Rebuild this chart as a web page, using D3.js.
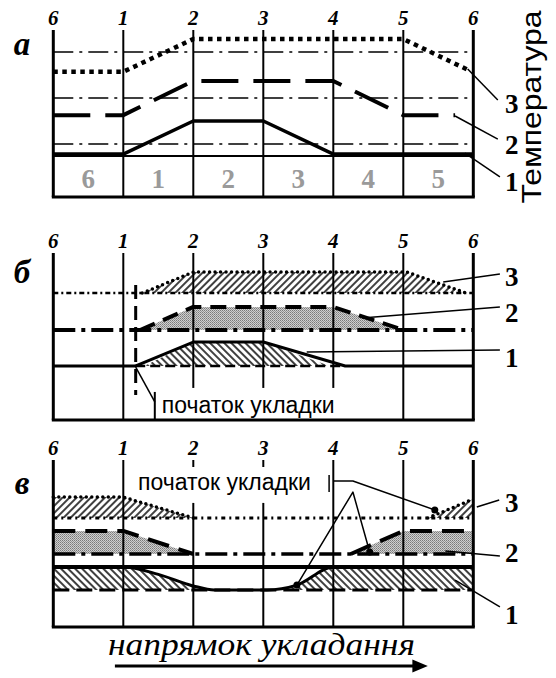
<!DOCTYPE html>
<html><head><meta charset="utf-8">
<script src="https://cdn.jsdelivr.net/npm/d3@7"></script>
<style>body{margin:0;background:#fff}</style>
</head><body>
<svg id="c" width="556" height="678"></svg>
<script>
// ---------- data ----------
const stations = ["6","1","2","3","4","5","6"];
const cellLabels = ["6","1","2","3","4","5"];
const panelLetters = ["а","б","в"];
const seriesLabels = ["1","2","3"];
const axisTitle = "Температура";
const startLabel = "початок укладки";
const directionLabel = "напрямок укладання";

// panel а (temperature levels, arbitrary units 0..100)
const aGrid = [86.8, 59.3, 31.7];
const aRow = 24.5;
const aLine3 = [[0,75],[1,75],[2,94.6],[5,94.6],[5.93,76]];
const aLine2 = [[0,49],[1,49],[2,69.5],[4,69.5],[5,49],[5.74,49]];
const aLine1 = [[0,25.7],[1,25.7],[2,45.5],[3,45.5],[4,25.7],[6,25.7]];
const aLabelLevels = [9.0, 31.1, 55.7];
const aLeaders = [[[5.88,26.3],[6.38,12]],[[5.74,48.5],[6.35,34.7]],[[5.92,76.6],[6.35,58.1]]];

// panel б
const bBase3 = 76.0;
const bZone3 = [[1.27,76],[2,88.6],[5.05,88.6],[5.9,76]];
const bBase2 = 53.9;
const bZone2 = [[1.24,53.9],[2,67.7],[4,67.7],[5,53.9]];
const bLine1 = [[0,32.3],[1.17,32.3],[2,46.7],[3,46.7],[4.17,32.3],[6,32.3]];
const bZone1 = [[1.3,32.3],[2,46.7],[3,46.7],[3.95,32.3]];
const bMarker = [[1.177,80.8],[1.177,15.0]];
const bShortLineEnd = 19.2;
const bBox = [[1.177,31.7],[1.45,10.8]];
const bBoxEdge = [[1.45,16.8],[1.45,0]];
const bTextPos = [1.55, 4.2];
const bLabelLevels = [37.1, 64.1, 85.6];
const bLeaders = [[[3.62,40.7],[6.38,41.9]],[[4.41,61.1],[6.38,67.7]],[[5.57,82.6],[6.38,87.4]]];

// panel в
const vBase3 = 65.3;
const vZone3L = [[0,77.8],[1,77.8],[2,65.3]];
const vZone3R = [[5.35,65.3],[6,76.6]];
const vBase2 = 43.7;
const vZone2L = [[0,57.5],[1,57.5],[2,43.7]];
const vZone2R = [[4.25,43.7],[5,57.5],[6,57.5]];
const vTop1 = 35.9;
const vLine1 = [[0,35.9],[1,35.9],[1.5,31.5],[2,24.6],[2.3,22.2],[3.05,22.2],[3.48,25.1],[4,35.9],[6,35.9]];
const vBase1 = 22.2;
const vDots = [[5.45,70.1],[4.52,44.9],[3.48,25.1]];
const vApex = [4.28,80.8];
const vTextPos = [1.21, 82.0];
const vTick = [4.0, 91.0, 80.8];
const vLeadH = [[4.0,87.4],[4.28,87.4]];
const vGap = [95.8, 74.3];
const vLabelLevels = [7.2, 44.3, 74.3];
const vLeaders = [[[5.74,28.1],[6.38,12]],[[5.6,45.5],[6.38,42.5]],[[6.05,71.9],[6.37,76.0]]];

// ---------- setup ----------
const svg = d3.select("#c");
const x = d3.scaleLinear().domain([0,6]).range([53.3,473.3]);
const panelTops = [30, 253, 460];
const PH = 167;
const ys = panelTops.map(t => d3.scaleLinear().domain([0,100]).range([t+PH, t]));

const defs = svg.append("defs");
function hatch(id, angle){
  const p = defs.append("pattern").attr("id",id).attr("patternUnits","userSpaceOnUse")
    .attr("width",5).attr("height",5).attr("patternTransform",`rotate(${angle})`);
  p.append("rect").attr("width",5).attr("height",5).attr("fill","#fff");
  p.append("line").attr("x1",1).attr("y1",0).attr("x2",1).attr("y2",5)
    .attr("stroke","#000").attr("stroke-width",1.5);
}
hatch("h3", 45);
hatch("h1", -45);
const g = defs.append("pattern").attr("id","gray").attr("patternUnits","userSpaceOnUse").attr("width",2).attr("height",2);
g.append("rect").attr("width",2).attr("height",2).attr("fill","#cfcfcf");
g.append("rect").attr("width",1).attr("height",1).attr("fill","#7a7a7a");
g.append("rect").attr("x",1).attr("y",1).attr("width",1).attr("height",1).attr("fill","#959595");

const serif = "'Liberation Serif','Times New Roman',serif";
const sans = "'Liberation Sans',Arial,sans-serif";

function line(y, pts, opts, curve){
  const gen = d3.line().x(d=>x(d[0])).y(d=>y(d[1])).curve(curve||d3.curveLinear);
  return svg.append("path").attr("d", gen(pts)).attr("fill","none")
    .attr("stroke","#000").attr("stroke-width",opts.w||2)
    .attr("stroke-dasharray",opts.dash||null)
    .attr("stroke-linecap",opts.cap||"butt")
    .attr("stroke-linejoin","round");
}
function area(y, pts, base, fill, curve){
  const gen = d3.area().x(d=>x(d[0])).y0(y(base)).y1(d=>y(d[1])).curve(curve||d3.curveLinear);
  svg.append("path").attr("d", gen(pts)).attr("fill",fill);
}
function frame(pi, opts){
  stations.forEach((s,i)=>{
    svg.append("text").text(s).attr("x",x(i)).attr("y",panelTops[pi]-5)
      .attr("text-anchor","middle").attr("font-family",serif).attr("font-style","italic")
      .attr("font-weight","bold").attr("font-size",21);
  });
  svg.append("text").text(panelLetters[pi]).attr("x",22).attr("y",opts.letterY)
    .attr("text-anchor","middle").attr("font-family",serif).attr("font-style","italic")
    .attr("font-weight","bold").attr("font-size",33);
}
function verticals(pi, short){
  const y = ys[pi];
  stations.forEach((s,i)=>{
    const outer = (i===0||i===6);
    const segs = short && short[i] ? short[i] : [[100,0]];
    segs.forEach(sg=>{
      svg.append("line").attr("x1",x(i)).attr("x2",x(i)).attr("y1",y(sg[0])).attr("y2",y(sg[1]))
        .attr("stroke","#000").attr("stroke-width",outer?3:2);
    });
  });
  svg.append("line").attr("x1",x(0)-1.5).attr("x2",x(6)+1.5).attr("y1",y(0)).attr("y2",y(0))
    .attr("stroke","#000").attr("stroke-width",3);
}
function labels(pi, levels, leaders){
  const y = ys[pi];
  leaders.forEach(l=>line(y,l,{w:1.5}));
  levels.forEach((lv,k)=>{
    svg.append("text").text(seriesLabels[k]).attr("x",x(6.55)).attr("y",y(lv))
      .attr("text-anchor","middle").attr("dominant-baseline","central")
      .attr("font-family",serif).attr("font-weight","bold").attr("font-size",27);
  });
}

// ---------- panel а ----------
{
  const y = ys[0];
  frame(0,{letterY:55});
  aGrid.forEach(v=>line(y,[[0,v],[6,v]],{w:1.6,dash:"20,6,3,6"}));
  line(y,[[0,aRow],[6,aRow]],{w:2});
  verticals(0);
  cellLabels.forEach((c,i)=>{
    svg.append("text").text(c).attr("x",x(i+0.5)).attr("y",y(5.4))
      .attr("text-anchor","middle").attr("font-family",serif).attr("font-weight","bold")
      .attr("font-size",27).attr("fill","#9a9a9a");
  });
  line(y,aLine3,{w:4.5,dash:"4.5,4.5"});
  line(y,aLine2,{w:4,dash:"37,15"});
  line(y,aLine1,{w:3.5});
  labels(0,aLabelLevels,aLeaders);
  svg.append("text").text(axisTitle)
    .attr("transform",`translate(${541},${107}) rotate(-90)`)
    .attr("text-anchor","middle").attr("font-family",sans).attr("font-size",27)
    .attr("textLength",193).attr("lengthAdjust","spacingAndGlyphs");
}

// ---------- panel б ----------
{
  const y = ys[1];
  frame(1,{letterY:283});
  area(y,bZone3,bBase3,"url(#h3)");
  area(y,bZone2,bBase2,"url(#gray)");
  area(y,bZone1,32.3,"url(#h1)");
  const sh = {2:[[100,bShortLineEnd]],3:[[100,bShortLineEnd]],4:[[100,bShortLineEnd]]};
  verticals(1, sh);
  line(y,[[0,bBase3],[6,bBase3]],{w:2.5,dash:"5,3,2,3"});
  line(y,bZone3,{w:3.5,dash:"0,5.5",cap:"round"});
  line(y,[[0,bBase2],[6,bBase2]],{w:4,dash:"22,6,4,6"});
  line(y,bZone2,{w:4,dash:"16,9"});
  line(y,[[1.17,32.3],[4.17,32.3]],{w:2.5,dash:"10,5"});
  line(y,bLine1,{w:3});
  line(y,bMarker,{w:3,dash:"14,7"});
  line(y,bBox,{w:1.5});
  line(y,bBoxEdge,{w:2});
  svg.append("text").text(startLabel).attr("x",x(bTextPos[0])).attr("y",y(bTextPos[1]))
    .attr("font-family",sans).attr("font-size",23);
  labels(1,bLabelLevels,bLeaders);
}

// ---------- panel в ----------
{
  const y = ys[2];
  frame(2,{letterY:494});
  area(y,vZone3L,vBase3,"url(#h3)");
  area(y,vZone3R,vBase3,"url(#h3)");
  area(y,vZone2L,vBase2,"url(#gray)");
  area(y,vZone2R,vBase2,"url(#gray)");
  area(y,vLine1,vBase1,"url(#h1)",d3.curveMonotoneX);
  const sh = {2:[[100,vGap[0]],[vGap[1],0]],3:[[100,vGap[0]],[vGap[1],0]]};
  verticals(2, sh);
  line(y,[[0,vBase3],[6,vBase3]],{w:3,dash:"4,4,2,4"});
  line(y,vZone3L,{w:3.5,dash:"0,5.5",cap:"round"});
  line(y,vZone3R,{w:3.5,dash:"0,5.5",cap:"round"});
  line(y,[[0,vBase2],[6,vBase2]],{w:3.5,dash:"22,6,4,6"});
  line(y,vZone2L,{w:4,dash:"22,10"});
  line(y,vZone2R,{w:4,dash:"22,10"});
  line(y,[[0,vBase1],[6,vBase1]],{w:3,dash:"16,7"});
  line(y,[[0,vTop1],[6,vTop1]],{w:4});
  line(y,vLine1,{w:3},d3.curveMonotoneX);
  svg.append("rect").attr("x",x(vTextPos[0])-3).attr("y",y(vTextPos[1])-20).attr("width",188).attr("height",24).attr("fill","#fff");
  svg.append("text").text(startLabel).attr("x",x(vTextPos[0])).attr("y",y(vTextPos[1]))
    .attr("font-family",sans).attr("font-size",23);
  line(y,[[vTick[0]-0.06,vTick[1]],[vTick[0]-0.06,vTick[2]]],{w:1.5});
  line(y,[vLeadH[0],vLeadH[1],vDots[0]],{w:1.5});
  line(y,[vDots[2],vApex,vDots[1]],{w:1.5});
  vDots.forEach(d=>svg.append("circle").attr("cx",x(d[0])).attr("cy",y(d[1])).attr("r",3.5).attr("fill","#000"));
  labels(2,vLabelLevels,vLeaders);
  svg.append("text").text(directionLabel).attr("x",x(0.78)).attr("y",655)
    .attr("font-family",serif).attr("font-style","italic").attr("font-size",31)
    .attr("textLength",307).attr("lengthAdjust","spacingAndGlyphs");
  svg.append("line").attr("x1",x(0.88)).attr("x2",x(5.15)).attr("y1",666).attr("y2",666)
    .attr("stroke","#000").attr("stroke-width",3);
  svg.append("path").attr("d",`M${x(5.35)},666 L${x(5.13)},659.5 L${x(5.13)},672.5 Z`).attr("fill","#000");
}
</script>
</body></html>
